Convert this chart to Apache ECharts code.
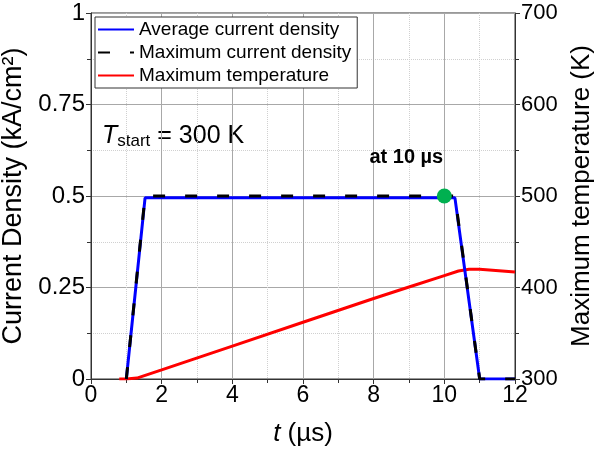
<!DOCTYPE html>
<html><head><meta charset="utf-8">
<script src="https://cdn.jsdelivr.net/npm/echarts@6/dist/echarts.min.js"></script>
<style>html,body{margin:0;padding:0;background:#fff}#c{width:596px;height:450px}</style>
</head><body><div id="c"></div>
<script>
const currentTime = [1, 1.53, 10.3, 11, 12];
const avgCurrent = [0, 0.495, 0.495, 0, 0];
const maxCurrent = [0, 0.5, 0.5, 0, 0];
const tempTime = [0.8, 1.0, 1.3, 2, 4, 6, 8, 9, 10, 10.4, 10.7, 11, 12];
const maxTemp = [300, 300, 301, 310, 336, 362, 388, 400.5, 413, 418, 420, 420, 417];
const markerPoint = [10, 0.5];
const seriesNames = ['Average current density', 'Maximum current density', 'Maximum temperature'];

const F = "'Liberation Sans', Arial, sans-serif";
const chart = echarts.init(document.getElementById('c'), null, {renderer: 'canvas'});
const pair = (xs, ys) => xs.map((x, i) => [x, ys[i]]);
const axisCommon = {
  axisTick: {show: true, inside: false, length: 5, lineStyle: {color: '#333'}},
  minorTick: {show: true, splitNumber: 2, length: 4, lineStyle: {color: '#333'}},
  axisLabel: {fontSize: 24, color: '#000', margin: 6, fontFamily: F}
};
chart.setOption({
  animation: false,
  textStyle: {fontFamily: F},
  grid: {left: 91, right: 81, top: 13, bottom: 71, containLabel: false, outerBoundsMode: 'none',
    show: true, borderColor: '#333', borderWidth: 1, backgroundColor: 'transparent'},
  legend: {
    orient: 'vertical', left: 95, top: 17, itemWidth: 36, itemHeight: 12, itemGap: 4,
    padding: [3, 6, 3, 2], borderColor: '#333', borderWidth: 1, backgroundColor: '#fff',
    itemStyle: {opacity: 0},
    textStyle: {fontSize: 19, color: '#000', fontFamily: F},
    data: seriesNames
  },
  xAxis: Object.assign({}, axisCommon, {
    type: 'value', min: 0, max: 12, interval: 2,
    name: '{i|t} (µs)', nameLocation: 'middle', nameGap: 42,
    nameTextStyle: {fontSize: 26, color: '#000', fontFamily: F, rich: {i: {fontStyle: 'italic', fontSize: 26, color: '#000', fontFamily: F}}},
    axisLine: {onZero: false, lineStyle: {color: '#333', width: 1}},
    axisLabel: {fontSize: 23, color: '#000', margin: 5, fontFamily: F},
    splitLine: {show: true, lineStyle: {color: '#a8a8a8', width: 1}},
    minorSplitLine: {show: true, lineStyle: {color: '#d0d0d0', type: 'dotted', width: 1}}
  }),
  yAxis: [Object.assign({}, axisCommon, {
    type: 'value', min: 0, max: 1, interval: 0.25,
    name: 'Current Density (kA/cm²)', nameLocation: 'middle', nameGap: 54, nameRotate: 90,
    nameTextStyle: {fontSize: 27, color: '#000', fontFamily: F},
    axisLine: {show: true, lineStyle: {color: '#333'}},
    splitLine: {show: true, lineStyle: {color: '#a8a8a8', width: 1}},
    minorSplitLine: {show: true, lineStyle: {color: '#d0d0d0', type: 'dotted', width: 1}}
  }), Object.assign({}, axisCommon, {
    type: 'value', min: 300, max: 700, interval: 100, position: 'right',
    name: 'Maximum temperature (K)', nameLocation: 'middle', nameGap: 53, nameRotate: 90,
    nameTextStyle: {fontSize: 26, color: '#000', fontFamily: F},
    axisLine: {show: true, lineStyle: {color: '#333'}},
    axisLabel: {fontSize: 22, color: '#000', margin: 6, fontFamily: F},
    splitLine: {show: false}
  })],
  series: [{
    name: seriesNames[2], type: 'line', yAxisIndex: 1, data: pair(tempTime, maxTemp),
    symbol: 'none', lineStyle: {color: '#ff0000', width: 3}, itemStyle: {color: '#ff0000'}, z: 2
  }, {
    name: seriesNames[0], type: 'line', data: pair(currentTime, avgCurrent),
    symbol: 'none', lineStyle: {color: '#0000ff', width: 3}, itemStyle: {color: '#0000ff'}, z: 3
  }, {
    name: seriesNames[1], type: 'line', data: pair(currentTime, maxCurrent),
    symbol: 'none', lineStyle: {color: '#000', width: 3, type: [12, 20]}, itemStyle: {color: '#000'}, z: 4
  }, {
    name: 'marker', type: 'scatter', data: [markerPoint], symbolSize: 15,
    itemStyle: {color: '#00b050', opacity: 1}, z: 5,
    label: {show: true, formatter: 'at 10 µs', position: 'top', offset: [-38, -16], fontSize: 20, fontWeight: 'bold', color: '#000', fontFamily: F}
  }],
  graphic: [{
    type: 'text', left: 102, top: 124,
    style: {
      text: '{i|T}{s|start}{n| = 300 K}',
      rich: {
        i: {fontStyle: 'italic', fontSize: 25, fill: '#000', fontFamily: F},
        s: {fontSize: 17, fill: '#000', fontFamily: F, padding: [10, 0, 0, 0]},
        n: {fontSize: 25, fill: '#000', fontFamily: F}
      }
    }
  }]
});
</script></body></html>
